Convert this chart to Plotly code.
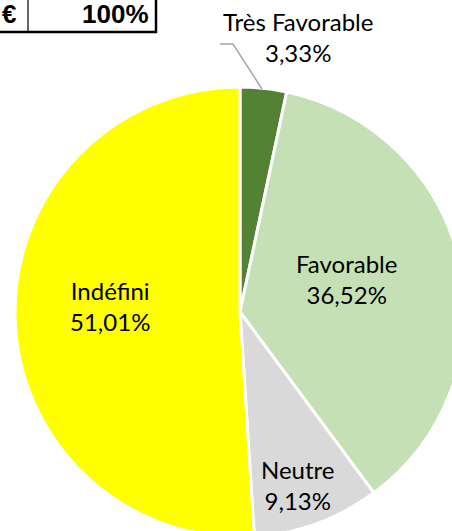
import plotly.graph_objects as go

# ---- data ----
categories = ["Très Favorable", "Favorable", "Neutre", "Indéfini"]
shares = [3.33, 36.52, 9.13, 51.01]
colors = ["#548235", "#C5E0B4", "#D9D9D9", "#FFFF00"]
table_cells = ["€", "100%"]

W, H = 480, 560          # figure a bit larger than the window so the pie is clipped
CX, CY, R = 240, 312, 225


def px(x):
    return x / W


def py(y):
    return 1 - y / H


fig = go.Figure()
fig.add_trace(go.Pie(
    labels=categories,
    values=shares,
    marker=dict(colors=colors, line=dict(color="white", width=3)),
    sort=False,
    direction="clockwise",
    rotation=0,
    textinfo="none",
    hoverinfo="label+percent",
    domain=dict(x=[px(CX - R), px(CX + R)], y=[py(CY + R), py(CY - R)]),
    showlegend=False,
))

label_pos = [(298, 37), (346, 279), (298, 485), (110, 306)]
annotations = []
for cat, val, (lx, ly) in zip(categories, shares, label_pos):
    txt = f"{cat}<br>{val:.2f}%".replace(".", ",")
    annotations.append(dict(
        x=px(lx), y=py(ly), xref="paper", yref="paper",
        text=txt, showarrow=False, xanchor="center", yanchor="middle",
        font=dict(family="Lato, Carlito, sans-serif", size=24, color="#000000"),
    ))

# table fragment in the upper left
annotations.append(dict(x=px(0), y=py(14), xref="paper", yref="paper", text=f"<b>{table_cells[0]}</b>",
                        showarrow=False, xanchor="left", yanchor="middle",
                        font=dict(family="Liberation Sans, Arial", size=26, color="#000000")))
annotations.append(dict(x=px(151), y=py(14), xref="paper", yref="paper", text=f"<b>{table_cells[1]}</b>",
                        showarrow=False, xanchor="right", yanchor="middle",
                        font=dict(family="Liberation Sans, Arial", size=26, color="#000000")))

shapes = [
    # leader line
    dict(type="path", xref="paper", yref="paper",
         path=f"M {px(220)} {py(44)} L {px(233)} {py(44)} L {px(262)} {py(89)}",
         line=dict(color="#A6A6A6", width=1.5)),
    # table borders
    dict(type="line", xref="paper", yref="paper", x0=px(0), x1=px(157), y0=py(32), y1=py(32),
         line=dict(color="#000000", width=2.5)),
    dict(type="line", xref="paper", yref="paper", x0=px(28), x1=px(28), y0=py(-2), y1=py(32),
         line=dict(color="#000000", width=1.2)),
    dict(type="line", xref="paper", yref="paper", x0=px(156), x1=px(156), y0=py(-2), y1=py(33),
         line=dict(color="#000000", width=2.5)),
]

fig.update_layout(
    width=W, height=H,
    margin=dict(l=0, r=0, t=0, b=0),
    paper_bgcolor="white",
    plot_bgcolor="white",
    annotations=annotations,
    shapes=shapes,
)

fig.write_html(
    "out.html",
    config={"displayModeBar": False},
    post_script="document.body.style.margin='0';document.body.style.overflow='hidden';",
)
